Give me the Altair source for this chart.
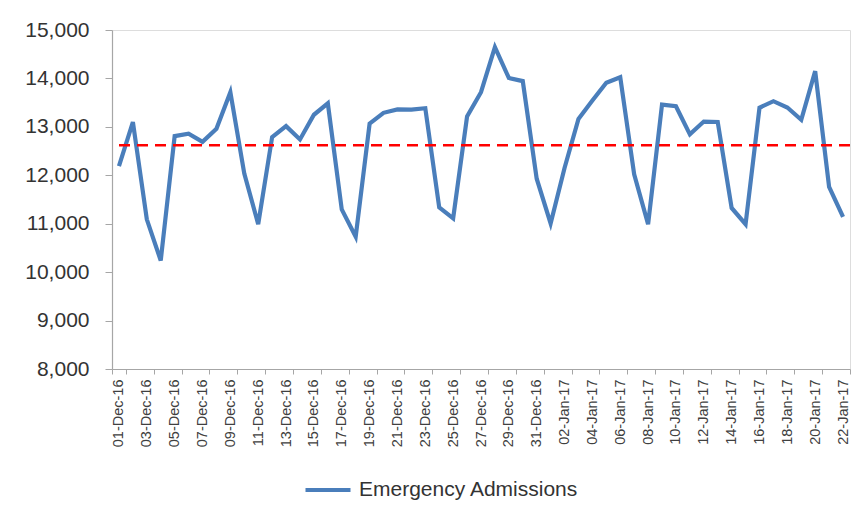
import altair as alt
import pandas as pd

dates = [d.strftime("%d-%b-%y") for d in pd.date_range("2016-12-01", "2017-01-22", freq="D")]
admissions = [
    12190, 13100, 11090, 10240, 12810, 12860, 12690, 12960, 13715, 12035,
    10990, 12790, 13015, 12740, 13250, 13485, 11295, 10730, 13065, 13290,
    13360, 13355, 13385, 11335, 11110, 13215, 13715, 14645, 14010, 13945,
    11930, 11005, 12150, 13165, 13545, 13910, 14025, 12020, 10990, 13460,
    13425, 12845, 13110, 13100, 11325, 10990, 13395, 13530, 13400, 13145,
    14150, 11760, 11140,
]
series_name = ["Emergency Admissions"] * len(dates)
average = [12620]

df = pd.DataFrame({"date": dates, "value": admissions, "series": series_name})
avg_df = pd.DataFrame({"avg": average})

FONT = "Liberation Sans"
BLUE = "#4a7ebb"

x_enc = alt.X(
    "date:O",
    sort=dates,
    scale=alt.Scale(type="band", paddingInner=0, paddingOuter=0),
    axis=alt.Axis(
        title=None,
        values=dates[::2],
        labelAngle=-90,
        labelFontSize=14.5,
        labelFont=FONT,
        labelColor="#404040",
        labelPadding=5,
        tickBand="extent",
        tickSize=5,
        tickColor="#a6a6a6",
        domainColor="#a6a6a6",
        domainWidth=1.2,
        grid=False,
    ),
)

line = alt.Chart(df).mark_line(strokeWidth=4.2).encode(
    x=x_enc,
    y=alt.Y(
        "value:Q",
        scale=alt.Scale(domain=[8000, 15000], nice=False, zero=False),
        axis=alt.Axis(
            title=None,
            values=[8000, 9000, 10000, 11000, 12000, 13000, 14000, 15000],
            format=",.0f",
            labelFontSize=21,
            labelFont=FONT,
            labelColor="#333333",
            labelPadding=16,
            tickSize=7,
            tickColor="#a6a6a6",
            domainColor="#a6a6a6",
            domainWidth=1.2,
            grid=False,
        ),
    ),
    color=alt.Color(
        "series:N",
        scale=alt.Scale(domain=["Emergency Admissions"], range=[BLUE]),
        legend=alt.Legend(
            title=None,
            orient="none",
            legendX=191,
            legendY=435,
            symbolType="stroke",
            symbolSize=2025,
            symbolStrokeWidth=4.2,
            labelFont=FONT,
            labelFontSize=21,
            labelColor="#333333",
            labelOffset=6,
            labelLimit=400,
            padding=0,
        ),
    ),
)

avg_rule = alt.Chart(avg_df).mark_rule(
    color="#ff0000", strokeWidth=2.5, strokeDash=[11, 7]
).encode(y="avg:Q")

chart = (
    alt.layer(line, avg_rule)
    .properties(
        width=738,
        height=339,
        autosize=alt.AutoSizeParams(type="none"),
        padding={"left": 104, "top": 22, "right": 5, "bottom": 146},
    )
    .configure_view(stroke=None)
    .configure(background="white")
)

chart.save("out.html", embed_options={"renderer": "svg", "actions": False})
